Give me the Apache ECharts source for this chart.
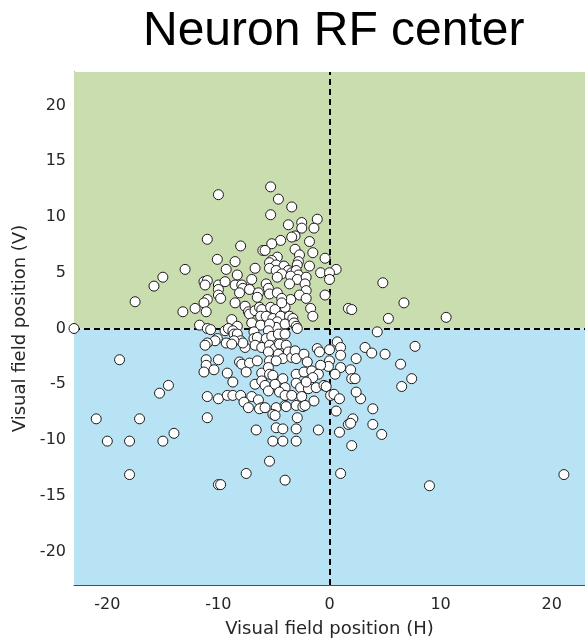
<!DOCTYPE html>
<html><head><meta charset="utf-8">
<script src="https://cdn.jsdelivr.net/npm/echarts@6/dist/echarts.min.js"></script>
<style>html,body{margin:0;padding:0;background:#fff}#c{width:585px;height:643px}</style>
</head><body><div id="c"></div><script>
const xTicks = [-20, -10, 0, 10, 20];
const yTicks = [-20, -15, -10, -5, 0, 5, 10, 15, 20];
const axisMin = -23, axisMax = 23;

// RF centers [H, V] in degrees, grouped by region of the picture
const upperLeft = [[-10.0,12.0],[-11.0,8.0],[-8.0,7.4],[-6.0,7.0],[-10.1,6.2],[-8.5,6.0],[-6.7,5.4],[-9.3,5.3],[-13.0,5.3],[-15.0,4.6],[-15.8,3.8],[-17.5,2.4],[-8.3,4.8],[-11.3,4.2],[-11.0,4.3],[-11.2,3.9],[-10.0,3.9],[-10.0,3.5],[-9.4,4.2],[-8.5,3.9],[-7.9,3.9],[-7.8,3.6],[-7.0,4.4],[-7.2,3.5],[-6.4,3.2],[-6.5,2.8],[-10.0,3.0],[-9.8,2.7],[-11.0,2.6],[-11.3,2.3],[-8.5,2.3],[-8.1,3.2],[-12.1,1.8],[-11.1,1.5],[-13.2,1.5],[-7.6,2.0],[-7.3,1.5],[-7.2,1.3],[-6.7,1.6],[-6.3,1.9],[-6.1,1.7],[-6.2,1.1],[-7.0,0.5],[-6.2,0.3],[-8.8,0.8],[-8.3,0.2],[-11.7,0.3],[-11.0,0.0],[-10.7,-0.1],[-9.4,-0.2],[-9.1,0.0],[-23.0,0.0]];
const upperRight = [[-5.3,12.7],[-4.6,11.6],[-3.4,10.9],[-5.3,10.2],[-1.1,9.8],[-2.5,9.5],[-2.5,9.0],[-3.7,9.3],[-1.4,9.0],[-3.1,8.3],[-3.4,8.2],[-4.4,7.9],[-5.2,7.6],[-1.8,7.8],[-3.1,7.1],[-5.8,7.0],[-1.5,6.8],[-2.7,6.6],[-0.4,6.3],[-4.7,6.4],[-5.2,6.1],[-5.4,5.9],[-4.8,5.7],[-4.1,5.6],[-2.8,6.0],[-2.9,5.7],[-1.8,5.6],[0.6,5.3],[-5.4,5.4],[-4.8,5.2],[-3.7,5.2],[-3.4,5.0],[-3.0,5.2],[-2.8,4.8],[-4.3,4.9],[-4.7,4.6],[-3.5,4.7],[-2.9,4.4],[-2.1,4.6],[-0.8,5.0],[0.0,5.0],[0.0,4.4],[-5.7,4.0],[-5.5,3.6],[-5.4,3.1],[-4.7,3.2],[-3.6,4.0],[-2.2,4.0],[-2.1,3.4],[-2.7,3.0],[-3.5,2.6],[-4.3,2.7],[-2.1,2.7],[-0.4,3.0],[-5.3,1.9],[-4.9,1.7],[-4.0,1.9],[-4.3,2.3],[-1.7,1.8],[-1.5,1.1],[1.7,1.8],[2.0,1.7],[-5.7,1.1],[-5.1,0.9],[-4.4,1.1],[-3.6,1.1],[-4.7,0.6],[-4.8,0.1],[-4.0,0.4],[-3.3,0.9],[-3.2,0.5],[-3.0,0.2],[-5.4,0.4],[-2.9,0.0],[4.8,4.1],[6.7,2.3],[5.3,0.9],[10.5,1.0]];
const lowerLeft = [[-8.7,-0.2],[-8.6,-0.5],[-8.3,-0.5],[-6.8,-0.3],[-6.8,-0.9],[-6.5,-0.8],[-6.7,-1.5],[-6.1,-1.7],[-7.6,-1.7],[-8.0,-1.1],[-7.8,-1.3],[-8.6,-1.1],[-9.3,-1.3],[-8.8,-1.4],[-10.1,-0.9],[-10.3,-1.1],[-11.0,-1.3],[-11.2,-1.5],[-11.1,-2.8],[-11.1,-3.3],[-11.3,-3.9],[-10.4,-3.7],[-10.0,-2.8],[-9.2,-4.0],[-8.7,-4.8],[-8.1,-3.0],[-7.9,-3.2],[-7.2,-3.1],[-6.5,-2.9],[-7.5,-3.9],[-6.1,-4.0],[-6.7,-5.0],[-6.1,-4.7],[-11.0,-6.1],[-10.0,-6.3],[-9.2,-6.0],[-8.7,-6.0],[-8.0,-6.0],[-7.0,-6.1],[-7.7,-6.6],[-7.3,-7.1],[-6.4,-6.4],[-6.1,-7.1],[-6.3,-7.2],[-11.0,-8.0],[-6.6,-9.1],[-18.9,-2.8],[-14.5,-5.1],[-15.3,-5.8],[-21.0,-8.1],[-17.1,-8.1],[-20.0,-10.1],[-18.0,-10.1],[-15.0,-10.1],[-14.0,-9.4],[-18.0,-13.1],[-10.0,-14.0],[-9.8,-14.0],[-7.5,-13.0]];
const lowerRight = [[-5.5,-0.2],[-5.7,-0.9],[-5.2,-0.7],[-4.6,-0.5],[-4.0,-0.5],[-5.4,-1.5],[-4.9,-1.8],[-5.5,-2.1],[-4.5,-1.4],[-3.9,-1.5],[-4.6,-2.3],[-3.7,-2.1],[-4.2,-2.7],[-3.4,-2.6],[-5.4,-2.9],[-4.8,-2.9],[-3.1,-2.0],[-3.0,-2.7],[-2.3,-2.3],[-2.0,-3.0],[-1.1,-1.8],[-0.9,-2.1],[0.0,-1.9],[0.7,-1.2],[1.0,-1.7],[1.0,-2.4],[0.0,-2.9],[-0.1,-3.4],[-0.8,-3.3],[2.4,-2.7],[4.3,-0.3],[-5.5,-3.5],[-5.4,-4.1],[-5.1,-4.2],[-4.2,-4.5],[-3.0,-4.1],[-2.3,-3.9],[-1.6,-3.8],[-1.0,-4.1],[-1.5,-4.4],[1.0,-3.5],[1.9,-3.7],[0.5,-4.1],[2.0,-4.5],[2.3,-4.5],[-5.8,-5.1],[-5.5,-5.6],[-4.9,-5.0],[-4.0,-5.3],[-4.5,-5.7],[-4.0,-6.0],[-3.4,-6.0],[-3.0,-4.9],[-2.6,-5.3],[-2.5,-6.1],[-1.9,-5.4],[-1.2,-5.3],[-2.1,-4.8],[-0.5,-5.1],[-0.3,-5.2],[0.1,-6.0],[0.4,-5.9],[0.9,-6.3],[-1.4,-6.5],[-5.8,-7.1],[-4.8,-7.1],[-4.0,-6.9],[-3.9,-7.0],[-3.0,-6.9],[-2.4,-7.0],[-2.2,-6.9],[-5.1,-7.7],[-4.9,-7.8],[-2.9,-8.0],[0.6,-7.4],[2.1,-8.1],[1.7,-8.6],[1.9,-8.5],[-4.8,-8.9],[-4.2,-9.0],[-3.0,-9.0],[-1.0,-9.1],[0.9,-9.3],[-5.1,-10.1],[-4.2,-10.1],[-3.0,-10.1],[2.0,-10.5],[-5.4,-11.9],[-4.0,-13.6],[1.0,-13.0],[3.2,-1.7],[3.8,-2.2],[5.0,-2.3],[7.7,-1.6],[6.4,-3.2],[7.4,-4.5],[6.5,-5.2],[2.8,-6.3],[3.9,-7.2],[3.9,-8.6],[4.7,-9.5],[9.0,-14.1],[21.1,-13.1],[2.4,-5.7]];

const points = [].concat(upperLeft, upperRight, lowerLeft, lowerRight);
const txt = '#262626', axisCol = '#4d4d4d';

const chart = echarts.init(document.getElementById('c'), null, {renderer: 'canvas'});
chart.setOption({
  animation: false,
  title: {
    text: 'Neuron RF center', left: 138, top: 3,
    textStyle: {fontFamily: 'Liberation Sans', fontSize: 48, fontWeight: 'normal', color: '#000'}
  },
  grid: {left: 74, right: 0, top: 72, bottom: 56},
  xAxis: {
    type: 'value', min: axisMin, max: axisMax,
    name: 'Visual field position (H)', nameLocation: 'middle', nameGap: 35,
    nameTextStyle: {fontFamily: 'DejaVu Sans', fontSize: 18, color: txt},
    axisLine: {onZero: false, lineStyle: {color: axisCol, width: 1}},
    axisTick: {inside: true, length: 5, customValues: xTicks, lineStyle: {color: axisCol}},
    axisLabel: {customValues: xTicks, fontFamily: 'DejaVu Sans', fontSize: 16, color: txt, margin: 12},
    splitLine: {show: false}
  },
  yAxis: {
    type: 'value', min: axisMin, max: axisMax,
    name: 'Visual field position (V)', nameLocation: 'middle', nameGap: 40,
    nameTextStyle: {fontFamily: 'DejaVu Sans', fontSize: 18, color: txt},
    axisLine: {onZero: false, lineStyle: {color: axisCol, width: 1}},
    axisTick: {inside: true, length: 5, customValues: yTicks, lineStyle: {color: axisCol}},
    axisLabel: {customValues: yTicks, fontFamily: 'DejaVu Sans', fontSize: 16, color: txt, margin: 8},
    splitLine: {show: false}
  },
  series: [
    {
      type: 'scatter', data: [], z: 1, silent: true,
      markArea: {
        silent: true, itemStyle: {opacity: 1},
        data: [
          [{yAxis: 0, itemStyle: {color: '#CADDAE'}}, {yAxis: axisMax}],
          [{yAxis: axisMin, itemStyle: {color: '#B8E3F5'}}, {yAxis: 0}]
        ]
      },
      markLine: {
        silent: true, symbol: 'none', label: {show: false},
        lineStyle: {color: '#000', type: [6, 4], width: 2},
        data: [{yAxis: 0}, {xAxis: 0}]
      }
    },
    {
      type: 'scatter', data: points, z: 5, symbolSize: 10,
      itemStyle: {color: '#fff', borderColor: '#1a1a1a', borderWidth: 1, opacity: 1}
    }
  ]
});
</script></body></html>
